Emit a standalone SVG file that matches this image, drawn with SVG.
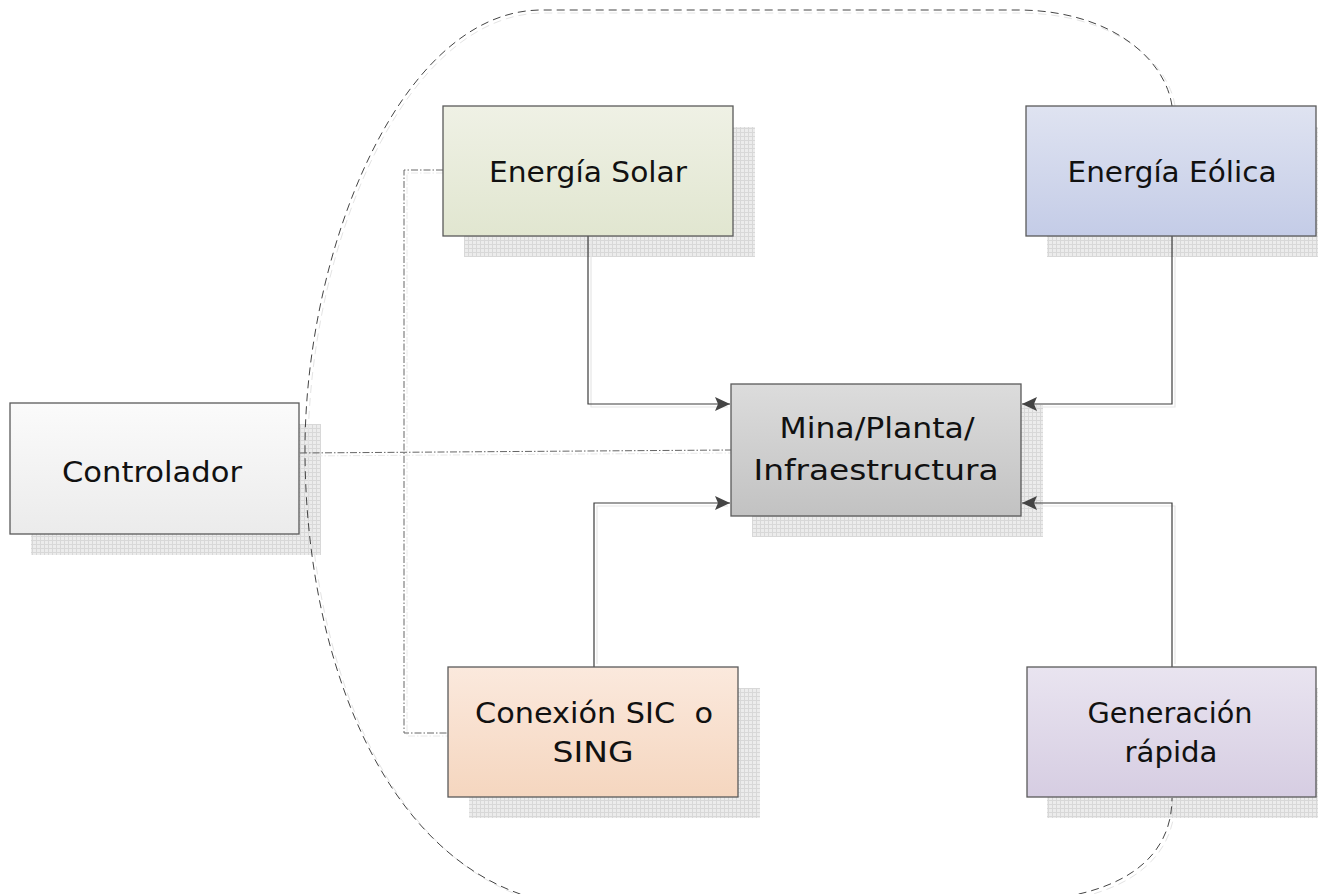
<svg xmlns="http://www.w3.org/2000/svg" width="1318" height="894" viewBox="0 0 1318 894">
<style>
.box{stroke:#5a5a5a;stroke-width:1.3}
.lbl{font-family:"DejaVu Sans","Liberation Sans",sans-serif;font-size:29px;fill:#111;text-anchor:middle;white-space:pre}
.flow{fill:none;stroke:#3c3c3c;stroke-width:1.2}
.flowsh{fill:none;stroke:#e6e6e6;stroke-width:1.2}
.ctl{fill:none;stroke:#666;stroke-width:1;stroke-dasharray:7 2 1.5 2}
.ctlsh{fill:none;stroke:#e8e8e8;stroke-width:1;stroke-dasharray:7 2 1.5 2}
.bound{fill:none;stroke:#444;stroke-width:1;stroke-dasharray:8 5}
.boundsh{fill:none;stroke:#e4e4e4;stroke-width:1;stroke-dasharray:8 5}
</style>
<defs>
<pattern id="grid" width="4" height="4" patternUnits="userSpaceOnUse">
<rect width="4" height="4" fill="#ececec"/>
<path d="M0 0.5H4M0.5 0V4" stroke="#d8d8d8" stroke-width="1"/>
</pattern>
<linearGradient id="gSolar" x1="0" y1="0" x2="0" y2="1"><stop offset="0" stop-color="#eff1e5"/><stop offset="1" stop-color="#e1e6d0"/></linearGradient>
<linearGradient id="gEolica" x1="0" y1="0" x2="0" y2="1"><stop offset="0" stop-color="#dfe3f1"/><stop offset="1" stop-color="#c4cce7"/></linearGradient>
<linearGradient id="gMina" x1="0" y1="0" x2="0" y2="1"><stop offset="0" stop-color="#dcdcdc"/><stop offset="1" stop-color="#c2c2c2"/></linearGradient>
<linearGradient id="gCtrl" x1="0" y1="0" x2="0" y2="1"><stop offset="0" stop-color="#fbfbfb"/><stop offset="1" stop-color="#ebebeb"/></linearGradient>
<linearGradient id="gCon" x1="0" y1="0" x2="0" y2="1"><stop offset="0" stop-color="#fbe9dd"/><stop offset="1" stop-color="#f5d6bf"/></linearGradient>
<linearGradient id="gGen" x1="0" y1="0" x2="0" y2="1"><stop offset="0" stop-color="#e9e4f0"/><stop offset="1" stop-color="#d6cde2"/></linearGradient>
<marker id="arr" markerWidth="16" markerHeight="14" refX="15" refY="7" orient="auto" markerUnits="userSpaceOnUse">
<path d="M0,0 L15,7 L0,14 L3,7 Z" fill="#444"/>
</marker>
</defs>

<g id="shadows">
<rect x="464" y="127" width="291" height="130" fill="url(#grid)"/>
<rect x="1047" y="127" width="271" height="130" fill="url(#grid)"/>
<rect x="752" y="405" width="291" height="132" fill="url(#grid)"/>
<rect x="31" y="424" width="290" height="131" fill="url(#grid)"/>
<rect x="469" y="688" width="291" height="130" fill="url(#grid)"/>
<rect x="1047" y="688" width="271" height="130" fill="url(#grid)"/>
</g>

<g id="connectors">
<path class="boundsh" d="M1175,106 C1168,60 1112,14 1022,13 L542,13 C402,15 308,252 308,452 C308,652 383,862 543,903 M1043,903 C1123,896 1175,862 1175,800"/>
<path class="bound" d="M1172,106 C1165,58 1110,11 1020,10 L540,10 C400,12 305,250 305,450 C305,650 380,860 540,900 M1040,900 C1120,893 1172,860 1172,798"/>
<path class="flowsh" d="M591,239 V407 H728"/>
<path class="flowsh" d="M1175,239 V407 H1024"/>
<path class="flowsh" d="M597,664 V506 H728"/>
<path class="flowsh" d="M1175,664 V506 H1024"/>
<path class="flow" d="M588,236 V404 H730" marker-end="url(#arr)"/>
<path class="flow" d="M1172,236 V404 H1022" marker-end="url(#arr)"/>
<path class="flow" d="M594,667 V503 H730" marker-end="url(#arr)"/>
<path class="flow" d="M1172,667 V503 H1022" marker-end="url(#arr)"/>
<path class="ctlsh" d="M443,173 H407 V736 H448"/>
<path class="ctl" d="M443,170 H404 V733 H448"/>
<path class="ctlsh" d="M303,456 L731,453"/>
<path class="ctl" d="M300,453 L731,450"/>
</g>

<g id="solar">
<rect class="box" x="443" y="106" width="290" height="130" fill="url(#gSolar)"/>
<text class="lbl" x="588" y="182" textLength="198" lengthAdjust="spacingAndGlyphs">Energía Solar</text>
</g>
<g id="eolica">
<rect class="box" x="1026" y="106" width="290" height="130" fill="url(#gEolica)"/>
<text class="lbl" x="1172" y="182" textLength="209" lengthAdjust="spacingAndGlyphs">Energía Eólica</text>
</g>
<g id="mina">
<rect class="box" x="731" y="384" width="290" height="132" fill="url(#gMina)"/>
<text class="lbl" x="877" y="438" textLength="195" lengthAdjust="spacingAndGlyphs">Mina/Planta/</text>
<text class="lbl" x="876" y="480" textLength="245" lengthAdjust="spacingAndGlyphs">Infraestructura</text>
</g>
<g id="controlador">
<rect class="box" x="10" y="403" width="289" height="131" fill="url(#gCtrl)"/>
<text class="lbl" x="152" y="482" textLength="180" lengthAdjust="spacingAndGlyphs">Controlador</text>
</g>
<g id="conexion">
<rect class="box" x="448" y="667" width="290" height="130" fill="url(#gCon)"/>
<text class="lbl" x="594" y="723" textLength="238" lengthAdjust="spacingAndGlyphs">Conexión SIC  o</text>
<text class="lbl" x="593" y="762" textLength="81" lengthAdjust="spacingAndGlyphs">SING</text>
</g>
<g id="generacion">
<rect class="box" x="1027" y="667" width="289" height="130" fill="url(#gGen)"/>
<text class="lbl" x="1170" y="723" textLength="165" lengthAdjust="spacingAndGlyphs">Generación</text>
<text class="lbl" x="1171" y="762" textLength="93" lengthAdjust="spacingAndGlyphs">rápida</text>
</g>
</svg>
